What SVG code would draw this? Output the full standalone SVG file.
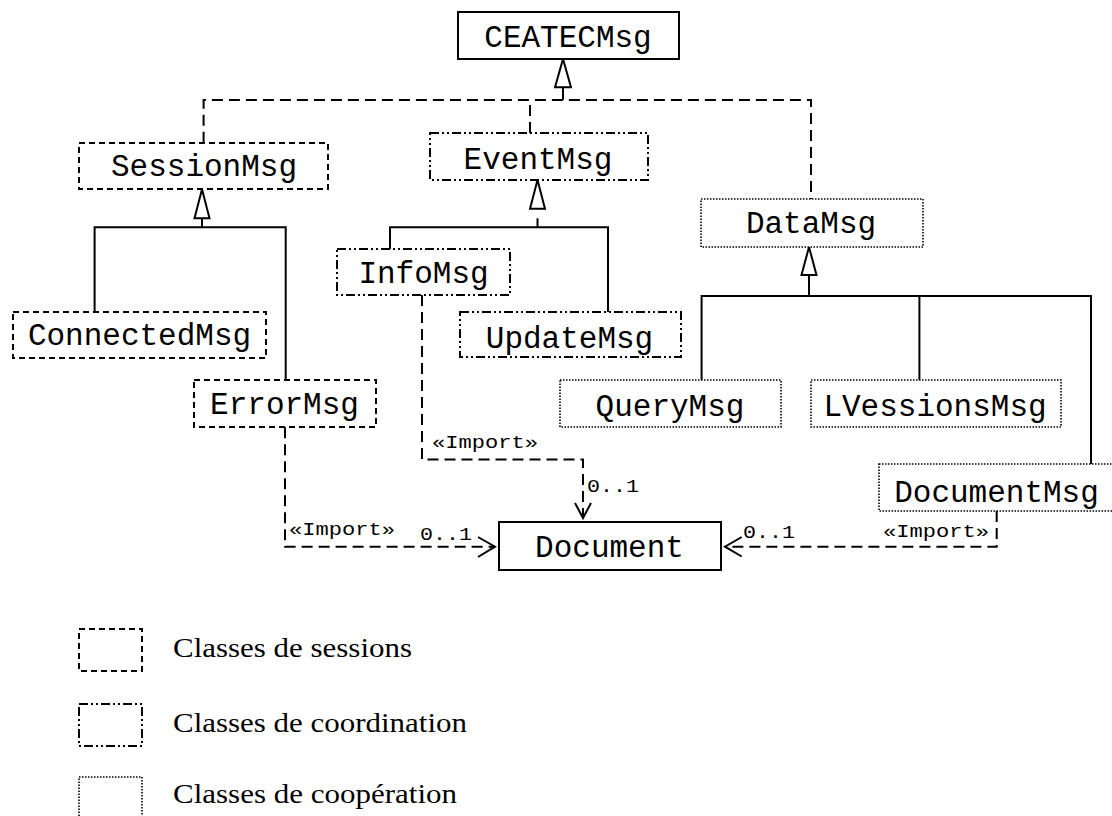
<svg xmlns="http://www.w3.org/2000/svg" width="1112" height="816" viewBox="0 0 1112 816">
  <style>
    .box { fill: #fff; stroke: #000; stroke-width: 2; }
    .solid { }
    .session { stroke-dasharray: 6 4; }
    .coord { stroke-dasharray: 9 3 2 3 2 3; }
    .coop { stroke-width: 1.6; stroke-dasharray: 1.5 1.5; }
    .name { font-family: "Liberation Mono", "Courier New", monospace; font-size: 31px; fill: #000; text-anchor: middle; }
    .lbl { font-family: "Liberation Mono", "Courier New", monospace; font-size: 19px; fill: #000; }
    .legend { font-family: "Liberation Serif", "Times New Roman", serif; font-size: 28px; fill: #000; }
    .line { fill: none; stroke: #000; stroke-width: 2; }
    .dash { fill: none; stroke: #000; stroke-width: 2; stroke-dasharray: 11 6; }
    .tri { fill: #fff; stroke: #000; stroke-width: 2; stroke-linejoin: miter; }
    .head { fill: none; stroke: #000; stroke-width: 2; }
  </style>

  <!-- connectors -->
  <g id="connectors">
    <!-- generalisation to CEATECMsg (dashed tree) -->
    <path class="dash" d="M203.6,142.7 V100 H811 V199"/>
    <path class="dash" d="M530,133 V100"/>
    <path class="line" d="M563,100 V87.3"/>
    <polygon class="tri" points="563,59 555,87.3 571,87.3"/>

    <!-- SessionMsg subclasses -->
    <path class="line" d="M94.6,312 V227.3 H285.7 V380"/>
    <path class="line" d="M202,227.3 V218.3"/>
    <polygon class="tri" points="202,189.3 194.5,218.3 209.5,218.3"/>

    <!-- EventMsg subclasses -->
    <path class="line" d="M390,249 V227.3 H608 V312"/>
    <path class="line" d="M537.5,227.3 V218.3"/>
    <polygon class="tri" points="537.5,180 530,208.7 545,208.7"/>

    <!-- DataMsg subclasses -->
    <path class="line" d="M701.6,380 V296 H1091 V464"/>
    <path class="line" d="M919.4,296 V380"/>
    <path class="line" d="M809,296 V275"/>
    <polygon class="tri" points="809,247 801.5,275 816.5,275"/>

    <!-- imports to Document -->
    <path class="dash" d="M285,427.3 V546.7 H495"/>
    <path class="head" d="M478,537 L495,546.7 L478,557"/>
    <text class="lbl" x="289" y="535" textLength="106" lengthAdjust="spacingAndGlyphs">«Import»</text>
    <text class="lbl" x="420" y="540" textLength="52" lengthAdjust="spacingAndGlyphs">0..1</text>

    <path class="dash" d="M422,295 V459.5 H583 V518"/>
    <path class="head" d="M575,503 L583,518 L591,503"/>
    <text class="lbl" x="432" y="448" textLength="106" lengthAdjust="spacingAndGlyphs">«Import»</text>
    <text class="lbl" x="587" y="492" textLength="52" lengthAdjust="spacingAndGlyphs">0..1</text>

    <path class="dash" d="M996.7,511 V546.7 H725"/>
    <path class="head" d="M741.7,537 L725,546.7 L741.7,556.5"/>
    <text class="lbl" x="883" y="537" textLength="106" lengthAdjust="spacingAndGlyphs">«Import»</text>
    <text class="lbl" x="743" y="538" textLength="52" lengthAdjust="spacingAndGlyphs">0..1</text>
  </g>

  <!-- classes -->
  <g id="CEATECMsg">
    <rect class="box solid" x="458" y="12" width="221" height="47"/>
    <text class="name" x="568" y="47">CEATECMsg</text>
  </g>
  <g id="SessionMsg">
    <rect class="box session" x="79" y="143" width="249" height="46"/>
    <text class="name" x="204" y="176">SessionMsg</text>
  </g>
  <g id="EventMsg">
    <rect class="box coord" x="430" y="133" width="218" height="47"/>
    <text class="name" x="538" y="169">EventMsg</text>
  </g>
  <g id="DataMsg">
    <rect class="box coop" x="701" y="199" width="222" height="48"/>
    <text class="name" x="811" y="233">DataMsg</text>
  </g>
  <g id="ConnectedMsg">
    <rect class="box session" x="13" y="312" width="253" height="46"/>
    <text class="name" x="139.5" y="345">ConnectedMsg</text>
  </g>
  <g id="ErrorMsg">
    <rect class="box session" x="194" y="380" width="182" height="47"/>
    <text class="name" x="284.5" y="414">ErrorMsg</text>
  </g>
  <g id="InfoMsg">
    <rect class="box coord" x="337" y="249" width="173" height="46"/>
    <text class="name" x="423.5" y="283">InfoMsg</text>
  </g>
  <g id="UpdateMsg">
    <rect class="box coord" x="460" y="312" width="221" height="45"/>
    <text class="name" x="569.5" y="348">UpdateMsg</text>
  </g>
  <g id="QueryMsg">
    <rect class="box coop" x="560" y="380" width="221" height="47"/>
    <text class="name" x="670" y="416">QueryMsg</text>
  </g>
  <g id="LVessionsMsg">
    <rect class="box coop" x="811" y="380" width="250" height="47"/>
    <text class="name" x="935" y="416">LVessionsMsg</text>
  </g>
  <g id="DocumentMsg">
    <rect class="box coop" x="879" y="464" width="240" height="47"/>
    <text class="name" x="996.5" y="502">DocumentMsg</text>
  </g>
  <g id="Document">
    <rect class="box solid" x="499" y="522" width="222" height="48"/>
    <text class="name" x="609.5" y="557">Document</text>
  </g>

  <!-- legend -->
  <g id="legend-sessions">
    <rect class="box session" x="79" y="629" width="63" height="42"/>
    <text class="legend" x="173" y="657" textLength="239" lengthAdjust="spacingAndGlyphs">Classes de sessions</text>
  </g>
  <g id="legend-coordination">
    <rect class="box coord" x="79" y="704" width="63" height="42"/>
    <text class="legend" x="173" y="732" textLength="294" lengthAdjust="spacingAndGlyphs">Classes de coordination</text>
  </g>
  <g id="legend-cooperation">
    <rect class="box coop" x="79" y="777" width="63" height="48"/>
    <text class="legend" x="173" y="803" textLength="284" lengthAdjust="spacingAndGlyphs">Classes de coopération</text>
  </g>
</svg>
